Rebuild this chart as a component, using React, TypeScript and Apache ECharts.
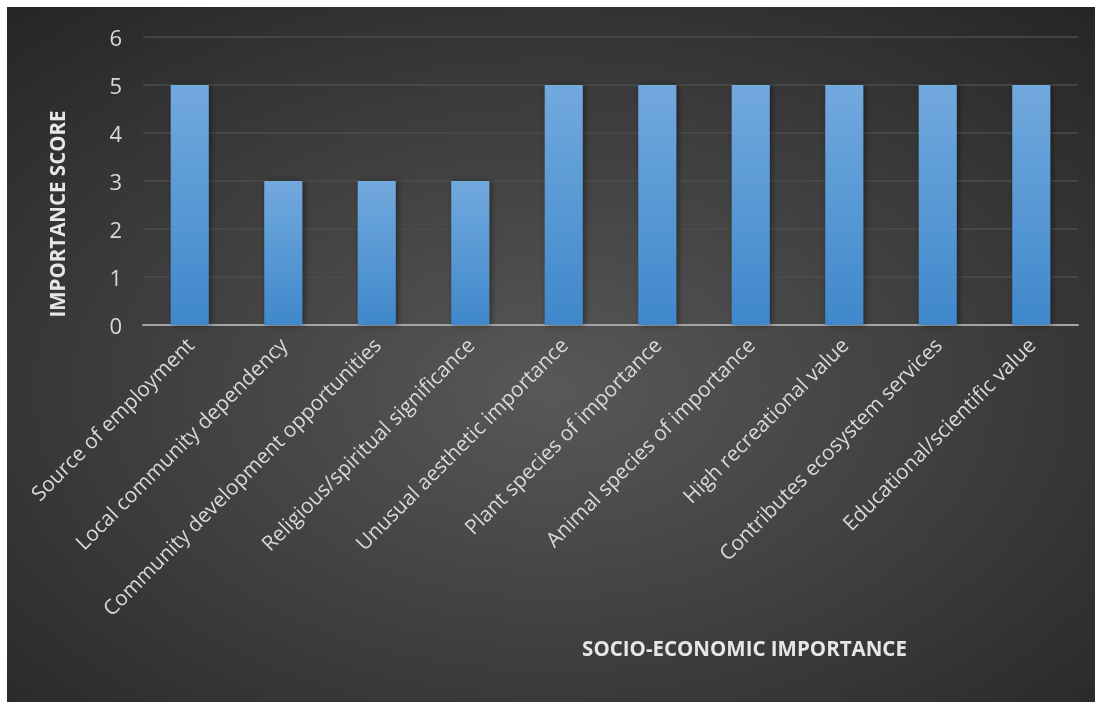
import React, { useEffect, useRef } from "react";
import * as echarts from "echarts";

const categories = [
  "Source of employment",
  "Local community dependency",
  "Community development opportunities",
  "Religious/spiritual significance",
  "Unusual aesthetic importance",
  "Plant species of importance",
  "Animal species of importance",
  "High recreational value",
  "Contributes ecosystem services",
  "Educational/scientific value",
];
const scores = [5, 3, 3, 3, 5, 5, 5, 5, 5, 5];
const yTicks = [0, 1, 2, 3, 4, 5, 6];
const yTitle = "IMPORTANCE SCORE";
const xTitle = "SOCIO-ECONOMIC IMPORTANCE";

const FONT = "'Open Sans', sans-serif";

export default function App() {
  const ref = useRef<HTMLDivElement>(null);
  useEffect(() => {
    if (!ref.current) return;
    const chart = echarts.init(ref.current, undefined, { renderer: "svg" });
    chart.setOption({
      animation: false,
      backgroundColor: {
        type: "radial",
        x: 0.5,
        y: 0.55,
        r: 0.75,
        colorStops: [
          { offset: 0, color: "#585858" },
          { offset: 1, color: "#252525" },
        ],
      },
      grid: { left: 136, right: 17, top: 30, bottom: 377, containLabel: false },
      xAxis: {
        type: "category",
        data: categories,
        axisLine: { show: true, lineStyle: { color: "#a6a6a6", width: 2 } },
        axisTick: { show: false },
        axisLabel: {
          rotate: 45,
          interval: 0,
          color: "#d9d9d9",
          fontSize: 20.8,
          fontFamily: FONT,
          margin: 16,
        },
      },
      yAxis: {
        type: "value",
        min: yTicks[0],
        max: yTicks[yTicks.length - 1],
        interval: 1,
        axisLine: { show: false },
        axisTick: { show: false },
        splitLine: { lineStyle: { color: "#4d4d4d", width: 1.5 } },
        axisLabel: {
          color: "#d9d9d9",
          fontSize: 22,
          fontFamily: FONT,
          margin: 21,
        },
      },
      series: [
        {
          type: "bar",
          data: scores,
          barWidth: 38,
          itemStyle: {
            color: {
              type: "linear",
              x: 0,
              y: 0,
              x2: 0,
              y2: 1,
              colorStops: [
                { offset: 0, color: "#72a9de" },
                { offset: 1, color: "#3f88cb" },
              ],
            },
            shadowColor: "rgba(0,0,0,0.45)",
            shadowBlur: 6,
            shadowOffsetX: 2,
            shadowOffsetY: 0,
          },
        },
      ],
      graphic: [
        {
          type: "text",
          x: 50,
          y: 207,
          rotation: Math.PI / 2,
          style: {
            text: yTitle,
            fill: "#e6e6e6",
            font: `bold 20.5px ${FONT}`,
            align: "center",
            verticalAlign: "middle",
          },
        },
        {
          type: "text",
          x: 737.5,
          y: 641,
          style: {
            text: xTitle,
            fill: "#e6e6e6",
            font: `bold 20.5px ${FONT}`,
            align: "center",
            verticalAlign: "middle",
          },
        },
      ],
    });
    return () => chart.dispose();
  }, []);
  return (
    <div
      ref={ref}
      style={{ position: "fixed", left: 7, top: 7, width: 1088, height: 695 }}
    />
  );
}
